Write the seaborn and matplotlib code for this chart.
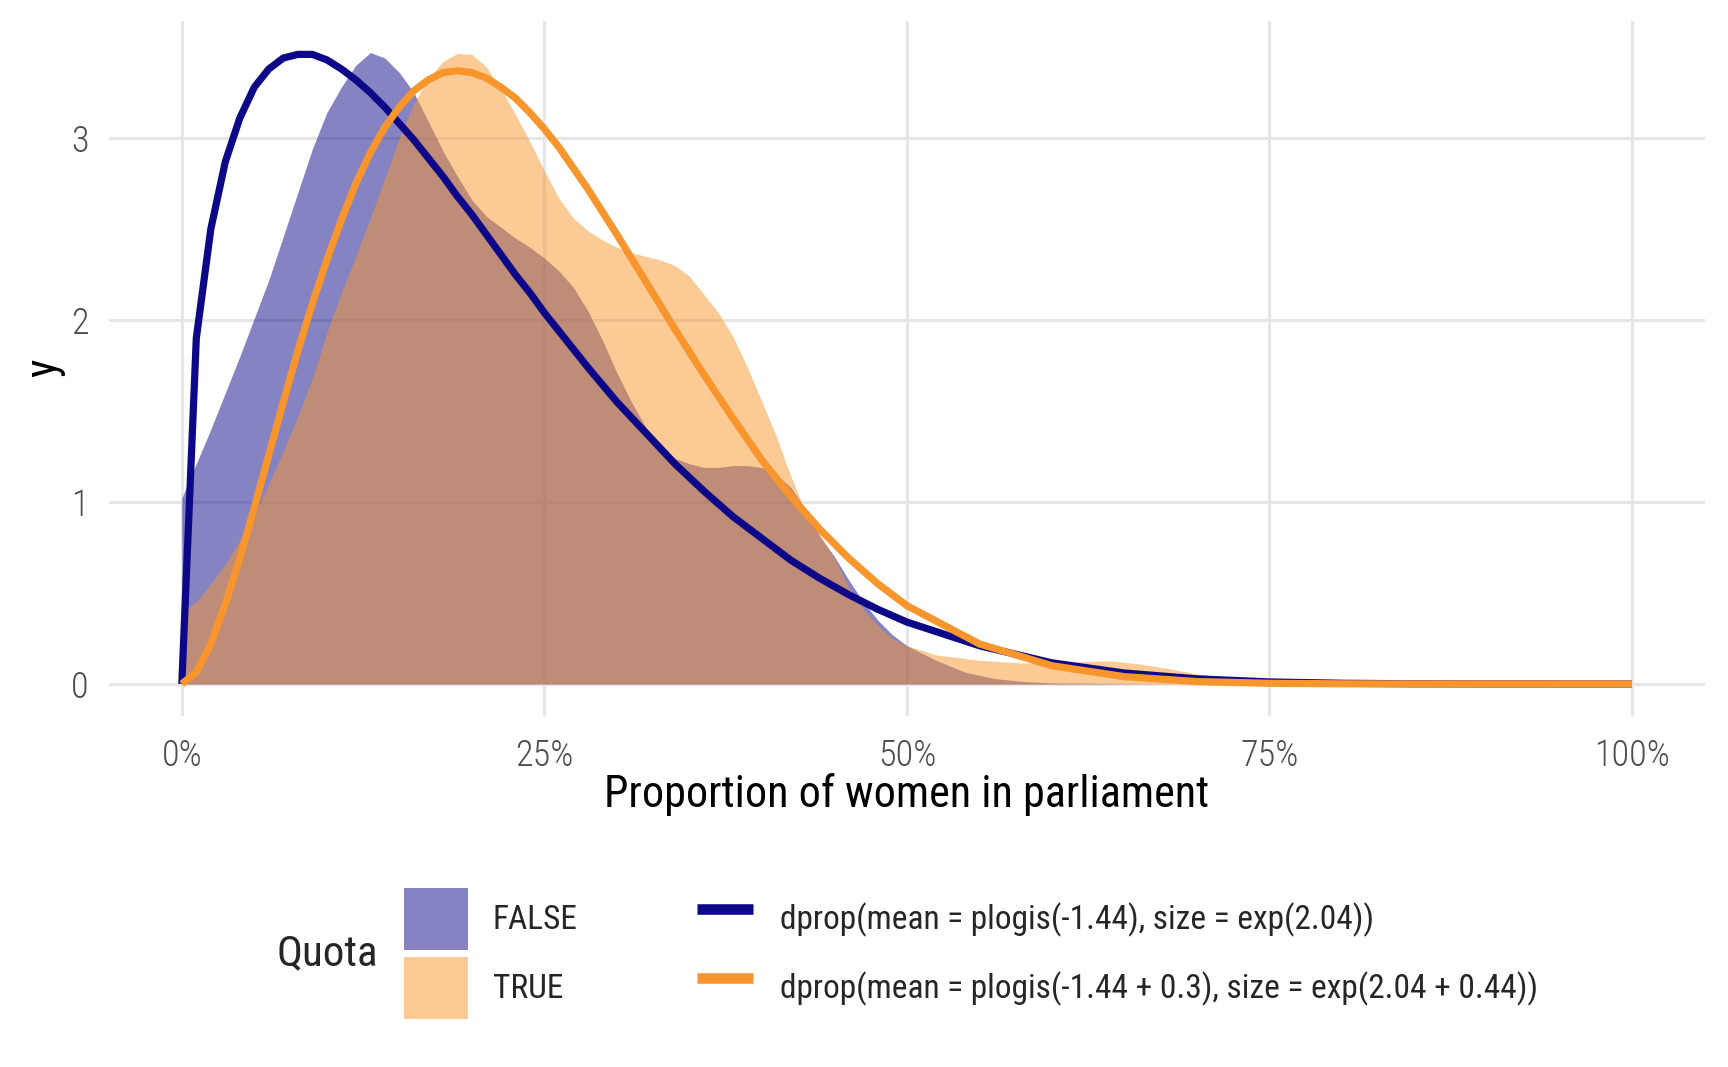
import matplotlib
matplotlib.use("Agg")
import matplotlib.pyplot as plt
from matplotlib import font_manager
from matplotlib.patches import Patch
from matplotlib.lines import Line2D
from matplotlib.ticker import FuncFormatter
import pandas as pd
import seaborn as sns

# -----------------------------------------------------------------
# Data (x in percent)
# -----------------------------------------------------------------
# Observed densities, Quota = FALSE
false_x = [0, 0.5, 1, 2, 3, 4, 5, 6, 7, 8, 9, 10, 11, 12, 13, 14, 15, 16, 17, 18, 19,
           20, 21, 22, 23, 24, 25, 26, 27, 28, 29, 30, 31, 32, 33, 34, 35, 36, 37, 38, 39,
           40, 41, 42, 43, 44, 45, 46, 47, 48, 49, 50, 52, 54, 56, 58, 60, 65, 70, 100]
false_y = [1.02, 1.12, 1.21, 1.40, 1.60, 1.80, 2.01, 2.22, 2.46, 2.70, 2.94, 3.14, 3.28, 3.40,
           3.47, 3.44, 3.36, 3.25, 3.09, 2.93, 2.79, 2.66, 2.57, 2.51, 2.45, 2.40, 2.34, 2.27,
           2.18, 2.05, 1.89, 1.71, 1.55, 1.41, 1.31, 1.24, 1.21, 1.19, 1.19, 1.20, 1.20, 1.19,
           1.15, 1.08, 0.96, 0.81, 0.70, 0.57, 0.45, 0.35, 0.27, 0.21, 0.13, 0.065, 0.03, 0.013,
           0.005, 0.001, 0, 0]

# Observed densities, Quota = TRUE
true_x = [0, 1, 2, 3, 4, 5, 6, 7, 8, 9, 10, 11, 12, 13, 14, 15, 16, 17, 18, 19,
          20, 21, 22, 23, 24, 25, 26, 27, 28, 29, 30, 31, 32, 33, 34, 35, 36, 37, 38, 39,
          40, 41, 42, 43, 44, 45, 46, 47, 48, 49, 50, 52, 55, 58, 61, 64, 66, 68, 70, 72,
          74, 77, 80, 85, 90, 100]
true_y = [0.40, 0.45, 0.55, 0.66, 0.79, 0.93, 1.10, 1.28, 1.47, 1.68, 1.93, 2.15, 2.35, 2.56,
          2.78, 3.00, 3.19, 3.33, 3.42, 3.465, 3.46, 3.39, 3.27, 3.13, 2.98, 2.82, 2.67, 2.56,
          2.49, 2.44, 2.40, 2.37, 2.35, 2.33, 2.30, 2.24, 2.14, 2.04, 1.91, 1.74, 1.55, 1.36,
          1.14, 0.95, 0.82, 0.69, 0.53, 0.41, 0.32, 0.25, 0.21, 0.16, 0.13, 0.115, 0.12, 0.127,
          0.11, 0.085, 0.055, 0.035, 0.02, 0.008, 0.003, 0.0005, 0, 0]

# Model curves
curve_x = [0, 1, 2, 3, 4, 5, 6, 7, 8, 9, 10, 11, 12, 13, 14, 15, 16, 17, 18, 19, 20,
           21, 22, 23, 24, 25, 26, 28, 30, 32, 34, 36, 38, 40, 42, 44, 46, 48, 50,
           55, 60, 65, 70, 75, 80, 85, 90, 95, 100]
curve_false_y = [0, 1.90, 2.50, 2.87, 3.11, 3.28, 3.38, 3.44, 3.46, 3.46, 3.43, 3.38, 3.32,
                 3.25, 3.17, 3.08, 2.99, 2.89, 2.79, 2.68, 2.58, 2.47, 2.36, 2.25, 2.15, 2.04,
                 1.94, 1.74, 1.55, 1.38, 1.21, 1.06, 0.92, 0.80, 0.68, 0.58, 0.49, 0.41, 0.34,
                 0.21, 0.116, 0.060, 0.028, 0.011, 0.0036, 0.0008, 0.0001, 0, 0]
curve_true_y = [0, 0.064, 0.22, 0.44, 0.69, 0.97, 1.26, 1.55, 1.83, 2.09, 2.33, 2.55, 2.75,
                2.92, 3.06, 3.17, 3.26, 3.32, 3.36, 3.37, 3.36, 3.33, 3.28, 3.22, 3.14, 3.05,
                2.95, 2.72, 2.47, 2.21, 1.95, 1.70, 1.46, 1.23, 1.03, 0.85, 0.69, 0.55, 0.43,
                0.22, 0.10, 0.040, 0.013, 0.0035, 0.0007, 0.0001, 0, 0, 0]

quota_labels = ["FALSE", "TRUE"]
curve_labels = ["dprop(mean = plogis(-1.44), size = exp(2.04))",
                "dprop(mean = plogis(-1.44 + 0.3), size = exp(2.04 + 0.44))"]
x_ticks = [0, 0.25, 0.5, 0.75, 1]
y_ticks = [0, 1, 2, 3]

PURPLE = "#0D0887"
ORANGE = "#F8962D"

# -----------------------------------------------------------------
# Theme / fonts
# -----------------------------------------------------------------
sns.set_theme(style="whitegrid")
installed = {f.name for f in font_manager.fontManager.ttflist}
base_font = "DejaVu Sans"
for fam in ["Roboto Condensed", "Liberation Sans Narrow", "Open Sans Condensed", "Roboto"]:
    if fam in installed:
        base_font = fam
        break
print("font:", base_font)
plt.rcParams["font.family"] = [base_font, "DejaVu Sans"]

W, H = 1728, 1067
fig = plt.figure(figsize=(W / 200, H / 200), dpi=200)
left, right, top, bottom = 109.3, 1704.5, 21, 715.5
ax = fig.add_axes([left / W, 1 - bottom / H, (right - left) / W, (bottom - top) / H])

# densities
ax.fill_between([v / 100 for v in false_x], false_y, color=PURPLE, alpha=0.5, linewidth=0)
ax.fill_between([v / 100 for v in true_x], true_y, color=ORANGE, alpha=0.5, linewidth=0)

# model curves
lines = pd.DataFrame({
    "x": [v / 100 for v in curve_x] * 2,
    "y": curve_false_y + curve_true_y,
    "curve": [curve_labels[0]] * len(curve_x) + [curve_labels[1]] * len(curve_x),
})
sns.lineplot(data=lines, x="x", y="y", hue="curve", palette=[PURPLE, ORANGE],
             estimator=None, sort=False, linewidth=2.6, legend=False, ax=ax,
             solid_capstyle="butt")

# axes
ymax = max(max(false_y), max(true_y))
ax.set_xlim(-0.05, 1.05)
ax.set_ylim(-0.05 * ymax, ymax * 1.05)
ax.set_xticks(x_ticks)
ax.set_yticks(y_ticks)
ax.xaxis.set_major_formatter(FuncFormatter(lambda v, p: f"{v * 100:.0f}%"))
ax.grid(True, color="#E6E6E6", linewidth=1.1)
for s in ax.spines.values():
    s.set_visible(False)
ax.tick_params(axis="x", length=0, pad=8.0, labelsize=13, labelcolor="#4D4D4D")
ax.tick_params(axis="y", length=0, pad=7.5, labelsize=13, labelcolor="#4D4D4D")
for lab in ax.get_xticklabels() + ax.get_yticklabels():
    lab.set_fontweight("light")

ax.set_xlabel("Proportion of women in parliament", fontsize=15.9, color="black")
ax.set_ylabel("y", fontsize=15.9, color="black")
ax.xaxis.set_label_coords(0.5, -(794.6 - bottom) / (bottom - top))
ax.xaxis.label.set_va("center")
ax.yaxis.set_label_coords((44 - left) / (right - left), 0.5)
ax.yaxis.label.set_va("center")

# legends
fs = 12
fill_handles = [Patch(facecolor=PURPLE, alpha=0.5, edgecolor="none"),
                Patch(facecolor=ORANGE, alpha=0.5, edgecolor="none")]
fig.legend(fill_handles, quota_labels, loc="upper left",
           bbox_to_anchor=(404 / W, 1 - 888 / H), frameon=False, fontsize=fs,
           borderpad=0, borderaxespad=0, handlelength=1.92, handleheight=2.49,
           labelspacing=0.21, handletextpad=0.74)
line_handles = [Line2D([], [], color=PURPLE, lw=3.8, solid_capstyle="butt"),
                Line2D([], [], color=ORANGE, lw=3.8, solid_capstyle="butt")]
fig.legend(line_handles, curve_labels, loc="upper left",
           bbox_to_anchor=(696.5 / W, 1 - 888 / H), frameon=False, fontsize=fs,
           borderpad=0, borderaxespad=0, handlelength=1.68, handleheight=2.49,
           labelspacing=0.21, handletextpad=0.82)
fig.text(378 / W, 1 - 954 / H, "Quota", ha="right", va="center", fontsize=15.5)

fig.savefig("out.png", dpi=200)
print("saved out.png")
